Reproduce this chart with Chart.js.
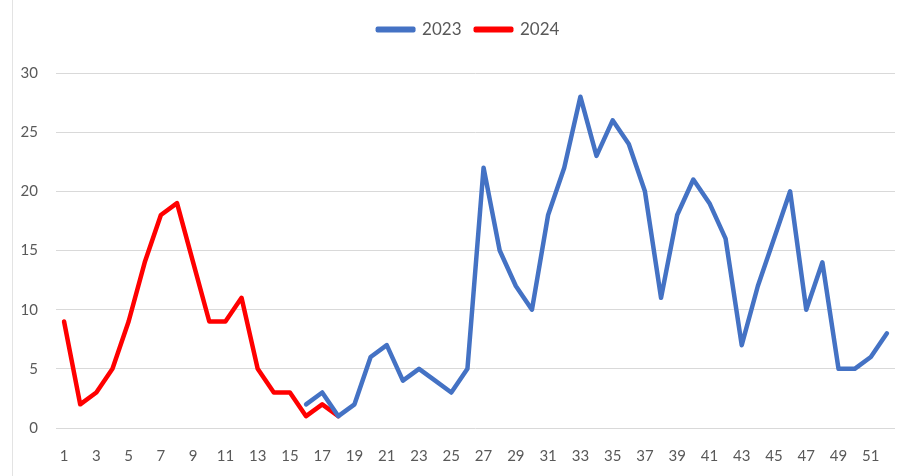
<!DOCTYPE html>
<html>
<head>
<meta charset="utf-8">
<script src="https://cdn.jsdelivr.net/npm/chart.js@4"></script>
<style>
  html, body { margin: 0; padding: 0; background: #fff; }
  #wrap { position: relative; width: 916px; height: 476px; }
  #edge { position: absolute; left: 12px; top: 0; width: 1px; height: 476px; background: #e3e3e3; }
</style>
</head>
<body>
<div id="wrap">
  <div id="edge"></div>
  <canvas id="chart" width="916" height="476"></canvas>
</div>
<script>
// Weekly cases by epidemiological week
const weeks = Array.from({ length: 52 }, (_, i) => String(i + 1));

const cases2023 = [
  null, null, null, null, null, null, null, null, null, null,
  null, null, null, null, null, 2, 3, 1, 2, 6,
  7, 4, 5, 4, 3, 5, 22, 15, 12, 10,
  18, 22, 28, 23, 26, 24, 20, 11, 18, 21,
  19, 16, 7, 12, 16, 20, 10, 14, 5, 5,
  6, 8
];

const cases2024 = [
  9, 2, 3, 5, 9, 14, 18, 19, 14, 9,
  9, 11, 5, 3, 3, 1, 2, 1
];

const yTicks = [0, 5, 10, 15, 20, 25, 30];

const textColor = '#595959';
const gridColor = '#d9d9d9';
const fontFamily = 'Lato, "Open Sans", sans-serif';

// extra room under the legend, and nudge it right like the original
const legendTweak = {
  id: 'legendTweak',
  beforeInit(chart) {
    const fit = chart.legend.fit;
    chart.legend.fit = function () {
      fit.call(this);
      this.height += 25;
    };
  },
  afterLayout(chart) {
    chart.legend.left += 21;
    chart.legend.right += 21;
  }
};

new Chart(document.getElementById('chart'), {
  type: 'line',
  data: {
    labels: weeks,
    datasets: [
      {
        label: '2023',
        data: cases2023,
        borderColor: '#4472C4',
        backgroundColor: '#4472C4',
        borderWidth: 4.5,
        pointRadius: 0,
        tension: 0,
        borderCapStyle: 'round',
        borderJoinStyle: 'round'
      },
      {
        label: '2024',
        data: cases2024,
        borderColor: '#FF0000',
        backgroundColor: '#FF0000',
        borderWidth: 4.5,
        pointRadius: 0,
        tension: 0,
        borderCapStyle: 'round',
        borderJoinStyle: 'round'
      }
    ]
  },
  plugins: [legendTweak],
  options: {
    responsive: false,
    animation: false,
    layout: { padding: { top: 7, right: 21, left: 0, bottom: 0 } },
    plugins: {
      tooltip: { enabled: false },
      legend: {
        position: 'top',
        labels: {
          color: textColor,
          font: { family: fontFamily, size: 17 },
          boxWidth: 36,
          boxHeight: 2,
          padding: 14,
          generateLabels: (chart) => {
            const items = Chart.defaults.plugins.legend.labels.generateLabels(chart);
            items.forEach(it => { it.lineWidth = 4; it.lineCap = 'round'; });
            return items;
          }
        }
      }
    },
    scales: {
      x: {
        offset: true,
        grid: { display: false, drawTicks: false },
        border: { display: false },
        ticks: {
          color: textColor,
          font: { family: fontFamily, size: 15 },
          maxRotation: 0,
          autoSkip: false,
          padding: 19,
          callback: function (val, i) { return i % 2 === 0 ? this.getLabelForValue(val) : ''; }
        },
        afterFit: (scale) => { scale.height = 48; }
      },
      y: {
        min: 0,
        max: 30,
        afterBuildTicks: (scale) => { scale.ticks = yTicks.map(v => ({ value: v })); },
        grid: { color: gridColor, lineWidth: 1, drawTicks: false },
        border: { display: false },
        ticks: {
          color: textColor,
          font: { family: fontFamily, size: 15 },
          padding: 18
        },
        afterFit: (scale) => { scale.width = 56; }
      }
    }
  }
});
</script>
</body>
</html>
